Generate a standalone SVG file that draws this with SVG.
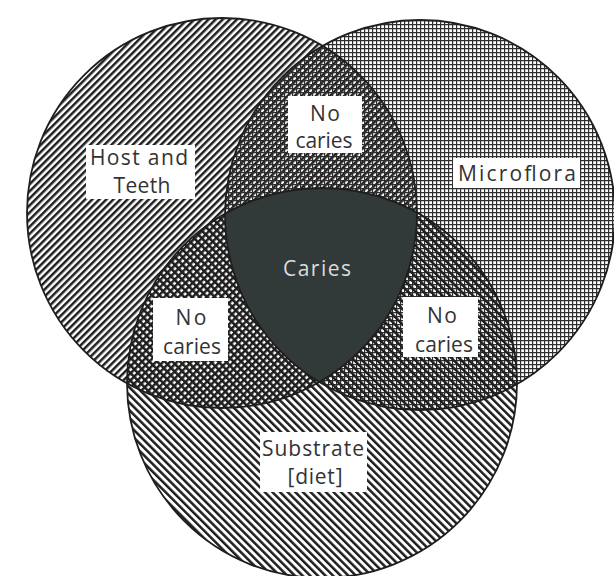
<svg xmlns="http://www.w3.org/2000/svg" width="614" height="576" viewBox="0 0 614 576">
  <style>
    .outline { fill: none; stroke: #1e1e1e; stroke-width: 1.8; }
    .box { fill: #ffffff; }
    .lbl { font-family: "Open Sans", "DejaVu Sans", sans-serif; font-size: 21px; fill: #333333; text-anchor: middle; }
    .lbl-light { fill: #dcdcdc; }
  </style>
  <defs>
    <pattern id="pHost" width="5" height="5" patternUnits="userSpaceOnUse" patternTransform="rotate(45)">
      <rect x="0" y="0" width="2.5" height="5" fill="#1e1e1e"/>
    </pattern>
    <pattern id="pSub" width="5.4" height="5.4" patternUnits="userSpaceOnUse" patternTransform="rotate(-45)">
      <rect x="0" y="0" width="2.5" height="5.4" fill="#1e1e1e"/>
    </pattern>
    <pattern id="pMicro" width="4" height="4" patternUnits="userSpaceOnUse">
      <path d="M0 0.6H4M0.6 0V4" stroke="#2e2e2e" stroke-width="1.2"/>
    </pattern>
    <clipPath id="cHost"><circle cx="222" cy="213" r="195"/></clipPath>
    <clipPath id="cMicro"><circle cx="420" cy="215" r="195"/></clipPath>
  </defs>

  <rect x="0" y="0" width="614" height="576" fill="#ffffff"/>

  <g id="host">
    <circle cx="222" cy="213" r="195" fill="url(#pHost)"/>
  </g>
  <g id="microflora">
    <circle cx="420" cy="215" r="195" fill="url(#pMicro)"/>
  </g>
  <g id="substrate">
    <circle cx="322" cy="383" r="195" fill="url(#pSub)"/>
  </g>

  <g id="caries">
    <g clip-path="url(#cHost)">
      <circle cx="322" cy="383" r="195" fill="#323939" clip-path="url(#cMicro)"/>
    </g>
  </g>

  <g id="outlines">
    <circle class="outline" cx="222" cy="213" r="195"/>
    <circle class="outline" cx="420" cy="215" r="195"/>
    <circle class="outline" cx="322" cy="383" r="195"/>
  </g>

  <g id="host-label">
    <rect class="box" x="86" y="145" width="109" height="54"/>
    <text class="lbl" x="139" y="165" textLength="98" lengthAdjust="spacing">Host and</text>
    <text class="lbl" x="142" y="193" textLength="57" lengthAdjust="spacing">Teeth</text>
  </g>
  <g id="microflora-label">
    <rect class="box" x="453" y="158" width="127" height="30"/>
    <text class="lbl" x="517" y="181" textLength="118" lengthAdjust="spacing">Microflora</text>
  </g>
  <g id="substrate-label">
    <rect class="box" x="260" y="432" width="107" height="60"/>
    <text class="lbl" x="313" y="456" textLength="102" lengthAdjust="spacing">Substrate</text>
    <text class="lbl" x="315" y="484" textLength="55" lengthAdjust="spacing">[diet]</text>
  </g>
  <g id="caries-label">
    <text class="lbl lbl-light" x="317" y="276" textLength="68" lengthAdjust="spacing">Caries</text>
  </g>
  <g id="no-caries-top">
    <rect class="box" x="288" y="96" width="74" height="57"/>
    <text class="lbl" x="325" y="121" textLength="30" lengthAdjust="spacing">No</text>
    <text class="lbl" x="324" y="148" textLength="57" lengthAdjust="spacing">caries</text>
  </g>
  <g id="no-caries-left">
    <rect class="box" x="153" y="298" width="75" height="63"/>
    <text class="lbl" x="191" y="325" textLength="31" lengthAdjust="spacing">No</text>
    <text class="lbl" x="192" y="354" textLength="58" lengthAdjust="spacing">caries</text>
  </g>
  <g id="no-caries-right">
    <rect class="box" x="403" y="297" width="75" height="60"/>
    <text class="lbl" x="442" y="323" textLength="30" lengthAdjust="spacing">No</text>
    <text class="lbl" x="444" y="352" textLength="58" lengthAdjust="spacing">caries</text>
  </g>
</svg>
